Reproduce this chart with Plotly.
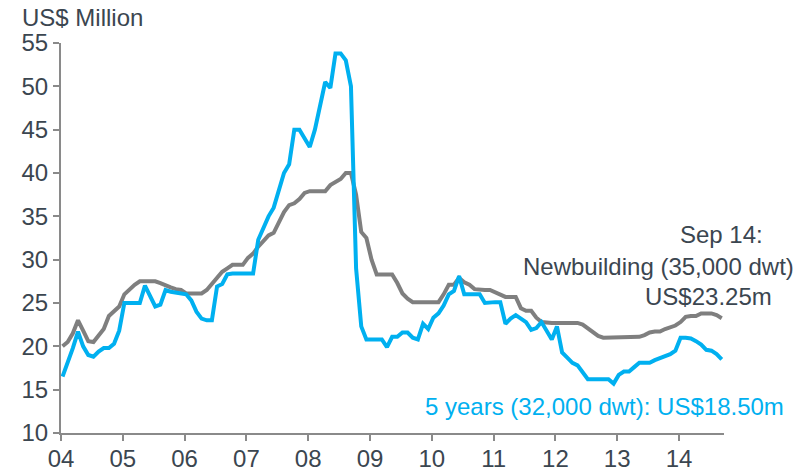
import plotly.graph_objects as go

# Monthly observations, Jan 2004 .. Sep 2014
start_year = 2004
n_months = 129

newbuilding = [
    20, 20.5, 21.5, 23, 21.8, 20.6, 20.5, 21.3, 22, 23.5, 24, 24.6,          # 2004
    26, 26.6, 27.1, 27.5, 27.5, 27.5, 27.5, 27.3, 27, 26.8, 26.6, 26.5,     # 2005
    26.1, 26.1, 26.1, 26.1, 26.5, 27.2, 28, 28.6, 29, 29.4, 29.4, 29.4,     # 2006
    30.2, 30.7, 31.5, 32.2, 32.8, 33.1, 34.3, 35.5, 36.3, 36.5, 37, 37.7,   # 2007
    37.9, 37.9, 37.9, 37.9, 38.6, 39, 39.3, 40, 40, 37.5, 33.2, 32.5,       # 2008
    30, 28.3, 28.3, 28.3, 28.3, 27.3, 26.1, 25.5, 25.1, 25.1, 25.1, 25.1,   # 2009
    25.1, 25.1, 26, 27.1, 27.1, 27.9, 27.4, 27.1, 26.6, 26.5, 26.5, 26.5,   # 2010
    26.2, 26, 25.7, 25.7, 25.7, 24.4, 24.1, 24.1, 23.3, 22.8, 22.7, 22.7,   # 2011
    22.7, 22.7, 22.7, 22.7, 22.7, 22.5, 22.1, 21.7, 21.2, 21, 21, 21,       # 2012
    21, 21, 21, 21, 21.1, 21.3, 21.6, 21.7, 21.7, 22, 22.2, 22.4,           # 2013
    22.8, 23.4, 23.5, 23.5, 23.8, 23.8, 23.8, 23.6, 23.25,                  # 2014
]

five_years = [
    16.5, 18, 19.8, 21.7, 20, 19, 18.8, 19.4, 19.8, 19.8, 20.3, 21.8,       # 2004
    25, 25, 25, 25, 27, 25.8, 24.6, 24.8, 26.5, 26.3, 26.2, 26.2,           # 2005
    26, 25.3, 24, 23.2, 23, 23, 26.9, 27.2, 28.3, 28.4, 28.4, 28.4,         # 2006
    28.4, 28.4, 32.3, 33.8, 35, 36, 38, 40, 41, 45, 45, 44,                 # 2007
    43, 45, 47.5, 50.5, 49.8, 53.8, 53.8, 53, 50, 29, 22.3, 20.8,           # 2008
    20.8, 20.8, 20.8, 19.9, 21.1, 21.1, 21.6, 21.6, 21, 20.8, 22.6, 22,     # 2009
    23.3, 23.8, 24.7, 26, 26.4, 28.1, 26, 26, 26, 26, 25, 25.1,             # 2010
    25.1, 25.1, 22.6, 23.2, 23.6, 23.2, 22.8, 21.9, 22.1, 22.8, 21.8, 20.8, # 2011
    22.3, 19.3, 18.7, 18.1, 17.8, 17, 16.2, 16.2, 16.2, 16.2, 16.2, 15.7,   # 2012
    16.7, 17.1, 17.1, 17.6, 18.1, 18.1, 18.1, 18.4, 18.6, 18.9, 19.1, 19.5, # 2013
    21, 21, 20.9, 20.6, 20.2, 19.6, 19.5, 19.1, 18.5,                       # 2014
]

tick_years = list(range(4, 15))
tick_labels = ["04", "05", "06", "07", "08", "09", "10", "11", "12", "13", "14"]

# x position of each monthly observation in years since 2000
x_vals = [4 + (i + 0.3) / 12 for i in range(n_months)]

TEXT = "#3b4650"
AXIS = "#8a8a8a"
GREY = "#7f7f7f"
CYAN = "#00b0f0"
FONT = "Liberation Sans, Arial, sans-serif"

fig = go.Figure()
fig.add_trace(go.Scatter(x=x_vals, y=newbuilding, mode="lines",
                         line=dict(color=GREY, width=4), name="Newbuilding"))
fig.add_trace(go.Scatter(x=x_vals, y=five_years, mode="lines",
                         line=dict(color=CYAN, width=4), name="5 years"))

fig.update_layout(
    template="none",
    width=806, height=473,
    margin=dict(l=61, r=82, t=43, b=40, pad=0),
    paper_bgcolor="white", plot_bgcolor="white",
    showlegend=False,
    font=dict(family=FONT, size=24, color=TEXT),
    xaxis=dict(range=[4, 4 + 663 / 61.8], tickmode="array", tickvals=tick_years,
               ticktext=tick_labels, showgrid=False, zeroline=False,
               automargin=False, ticklabelstandoff=-3,
               showline=True, linecolor=AXIS, linewidth=2,
               ticks="outside", ticklen=6, tickwidth=2, tickcolor=AXIS,
               tickfont=dict(size=24, color=TEXT)),
    yaxis=dict(range=[10, 55], tickmode="array", tickvals=list(range(10, 56, 5)),
               showgrid=False, zeroline=False,
               automargin=False,
               showline=True, linecolor=AXIS, linewidth=2,
               ticks="outside", ticklen=6, tickwidth=2, tickcolor=AXIS,
               tickfont=dict(size=24, color=TEXT)),
)

fig.add_annotation(text="US$ Million", xref="paper", yref="paper",
                   x=(20 - 61) / 663, y=(433.3 - 18) / 390,
                   xanchor="left", yanchor="middle", showarrow=False,
                   font=dict(size=24, color=TEXT))
fig.add_annotation(text="Sep 14:", x=14.68, y=32.9, showarrow=False,
                   xanchor="center", yanchor="middle", font=dict(size=24, color=TEXT))
fig.add_annotation(text="Newbuilding (35,000 dwt)", x=13.665, y=29.2, showarrow=False,
                   xanchor="center", yanchor="middle", font=dict(size=24, color=TEXT))
fig.add_annotation(text="US$23.25m", x=14.47, y=25.75, showarrow=False,
                   xanchor="center", yanchor="middle", font=dict(size=24, color=TEXT))
fig.add_annotation(text="5 years (32,000 dwt): US$18.50m", x=12.79, y=13.05,
                   showarrow=False, xanchor="center", yanchor="middle",
                   font=dict(size=24, color=CYAN))

fig.write_html(
    "out.html",
    config={"displayModeBar": False},
    post_script="document.body.style.margin='0';document.body.style.overflow='hidden';",
)
